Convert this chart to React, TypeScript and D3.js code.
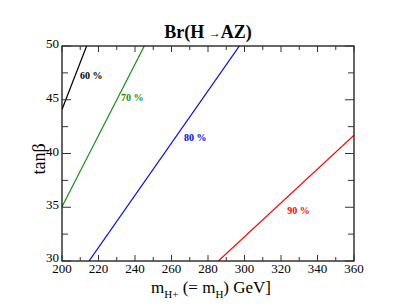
import React from "react";
import * as d3 from "d3";

const W = 399, H = 308;
const margin = { left: 62, right: 45, top: 46, bottom: 47 };

const xDomain = [200, 360];
const yDomain = [30, 50];
const xMajorTicks = [200, 220, 240, 260, 280, 300, 320, 340, 360];
const yMajorTicks = [30, 35, 40, 45, 50];

const series = [
  { name: "60 %", color: "#000000", mass: [200, 213.5], tanb: [44.1, 50], label: [216, 46.9] },
  { name: "70 %", color: "#109010", mass: [200, 245.1], tanb: [35.05, 50], label: [238.5, 44.9] },
  { name: "80 %", color: "#0000ff", mass: [214.8, 297.2], tanb: [30, 50], label: [273, 41.2] },
  { name: "90 %", color: "#ff0000", mass: [285.7, 360], tanb: [30, 41.7], label: [329.6, 34.4] },
];

export default function App() {
  const x = d3.scaleLinear().domain(xDomain).range([margin.left, W - margin.right]);
  const y = d3.scaleLinear().domain(yDomain).range([H - margin.bottom, margin.top]);
  const line = d3.line<[number, number]>().x((d) => x(d[0])).y((d) => y(d[1]));
  const xMinor = d3.range(210, 360, 20);
  const yMinor = d3.range(32.5, 50, 5);
  const serif = "'Liberation Serif', 'DejaVu Serif', serif";
  const x0 = x(xDomain[0]), x1 = x(xDomain[1]), y0 = y(yDomain[0]), y1 = y(yDomain[1]);
  return (
    <svg width={W} height={H} style={{ position: "absolute", left: 0, top: 0, background: "#fff" }} fontFamily={serif}>
      <defs>
        <clipPath id="plot"><rect x={x0} y={y1} width={x1 - x0} height={y0 - y1} /></clipPath>
      </defs>
      <text x={208} y={38} textAnchor="middle" fontWeight="bold" fontSize={18}>
        Br(H <tspan fontSize={12} dy={-1}>→</tspan><tspan dy={1}>AZ)</tspan>
      </text>
      <g clipPath="url(#plot)">
        {series.map((s) => (
          <path key={s.name} d={line(s.mass.map((m, i) => [m, s.tanb[i]]) as [number, number][]) || ""} fill="none" stroke={s.color} strokeWidth={1.2} />
        ))}
      </g>
      {series.map((s) => (
        <text key={s.name + "l"} x={x(s.label[0])} y={y(s.label[1])} fill={s.color} fontWeight="bold" fontSize={10} textAnchor="middle">{s.name}</text>
      ))}
      <rect x={x0} y={y1} width={x1 - x0} height={y0 - y1} fill="none" stroke="#000" strokeWidth={1.2} />
      {xMajorTicks.map((t) => (
        <g key={"xt" + t}>
          <line x1={x(t)} x2={x(t)} y1={y0} y2={y0 - 6} stroke="#333" />
          <line x1={x(t)} x2={x(t)} y1={y1} y2={y1 + 6} stroke="#333" />
          <text x={x(t)} y={273} textAnchor="middle" fontSize={13}>{t}</text>
        </g>
      ))}
      {xMinor.map((t) => (
        <g key={"xm" + t}>
          <line x1={x(t)} x2={x(t)} y1={y0} y2={y0 - 4} stroke="#333" />
          <line x1={x(t)} x2={x(t)} y1={y1} y2={y1 + 4} stroke="#333" />
        </g>
      ))}
      {yMajorTicks.map((t) => (
        <g key={"yt" + t}>
          <line x1={x0} x2={x0 + 9} y1={y(t)} y2={y(t)} stroke="#333" />
          <line x1={x1} x2={x1 - 9} y1={y(t)} y2={y(t)} stroke="#333" />
          <text x={59} y={t === 30 ? y(t) + 1 : y(t) + 2} textAnchor="end" fontSize={13}>{t}</text>
        </g>
      ))}
      {yMinor.map((t) => (
        <g key={"ym" + t}>
          <line x1={x0} x2={x0 + 6} y1={y(t)} y2={y(t)} stroke="#333" />
          <line x1={x1} x2={x1 - 6} y1={y(t)} y2={y(t)} stroke="#333" />
        </g>
      ))}
      <text transform="translate(45,159) rotate(-90)" textAnchor="middle" fontSize={18}>tanβ</text>
      <text x={211} y={293} textAnchor="middle" fontSize={17}>
        m<tspan fontSize={11} dy={5}>H+</tspan><tspan dy={-5}> (= m</tspan><tspan fontSize={11} dy={5}>H</tspan><tspan dy={-5}>) GeV]</tspan>
      </text>
    </svg>
  );
}
